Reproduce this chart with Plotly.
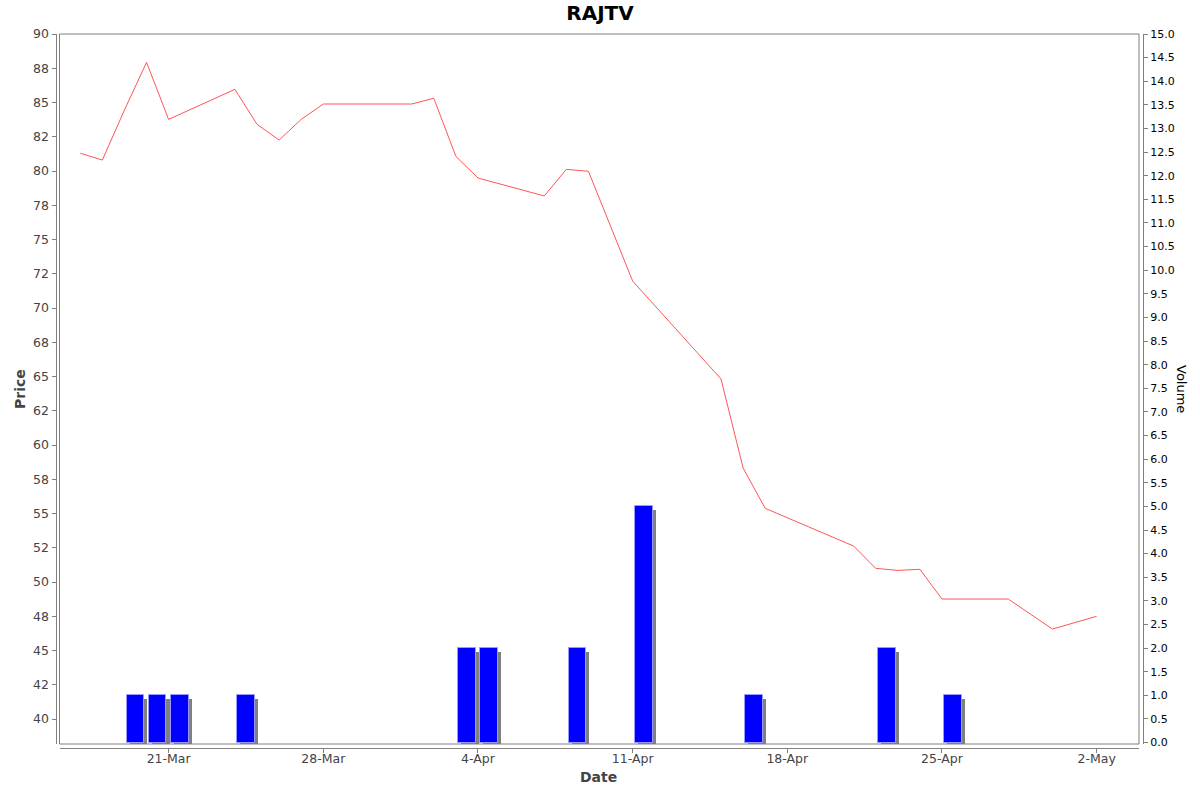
import pandas as pd
import plotly.graph_objects as go

# daily closing price
price_dates = ["2025-03-17", "2025-03-18", "2025-03-19", "2025-03-20", "2025-03-21",
               "2025-03-24", "2025-03-25", "2025-03-26", "2025-03-27", "2025-03-28",
               "2025-03-31", "2025-04-01", "2025-04-02", "2025-04-03", "2025-04-04",
               "2025-04-07", "2025-04-08", "2025-04-09", "2025-04-11", "2025-04-15",
               "2025-04-16", "2025-04-17", "2025-04-21", "2025-04-22", "2025-04-23",
               "2025-04-24", "2025-04-25", "2025-04-28", "2025-04-30", "2025-05-02"]
price_values = [81.3, 80.8, 84.45, 87.93, 83.77,
                85.96, 83.41, 82.26, 83.77, 84.89,
                84.89, 84.89, 85.31, 81.07, 79.49,
                78.18, 80.12, 79.98, 71.97, 64.82,
                58.32, 55.38, 52.63, 51.0, 50.85,
                50.93, 48.76, 48.76, 46.57, 47.5]

# traded volume
vol_dates = ["2025-03-19", "2025-03-20", "2025-03-21", "2025-03-24", "2025-04-03",
             "2025-04-04", "2025-04-08", "2025-04-11", "2025-04-16", "2025-04-22",
             "2025-04-25"]
vol_values = [1, 1, 1, 1, 2, 2, 2, 5, 1, 2, 1]

price_ticks = [40 + 2.5 * i for i in range(21)]
price_labels = ["40", "42", "45", "48", "50", "52", "55", "58", "60", "62", "65",
                "68", "70", "72", "75", "78", "80", "82", "85", "88", "90"]
vol_ticks = [0.5 * i for i in range(31)]
date_ticks = ["2025-03-21", "2025-03-28", "2025-04-04", "2025-04-11", "2025-04-18",
              "2025-04-25", "2025-05-02"]
date_labels = ["21-Mar", "28-Mar", "4-Apr", "11-Apr", "18-Apr", "25-Apr", "2-May"]

DAY = 86400000
FONT = "DejaVu Sans"

vol_x = pd.to_datetime(vol_dates)
price_x = pd.to_datetime(price_dates)

fig = go.Figure()
# bar shadows
fig.add_trace(go.Bar(x=vol_x, y=vol_values, base=-0.085, yaxis="y2",
                     offset=0.24 * DAY, width=0.8 * DAY,
                     marker=dict(color="#808080", line=dict(width=0)),
                     hoverinfo="skip"))
fig.add_trace(go.Bar(x=vol_x, y=vol_values, yaxis="y2", name="Volume",
                     offset=0.1 * DAY, width=0.8 * DAY,
                     marker=dict(color="#0000FF", line=dict(color="#9999ff", width=1))))
fig.add_trace(go.Scatter(x=price_x, y=price_values, mode="lines", name="Price",
                         line=dict(color="#FF5555", width=1)))

# paper area: x 50..1150, y 30..752 (pixels)
def px_x(p):
    return (p - 50) / 1100

def px_y(p):
    return (752 - p) / 722

axis_common = dict(showgrid=False, zeroline=False, showline=True, linecolor="#808080",
                   linewidth=1, ticks="outside", ticklen=4, tickcolor="#808080")

fig.update_layout(
    width=1200, height=792,
    margin=dict(l=50, r=50, t=30, b=40),
    paper_bgcolor="white", plot_bgcolor="white",
    showlegend=False, barmode="overlay", bargap=0,
    title=dict(text="<b>RAJTV</b>", x=0.5, xanchor="center", y=1 - 13 / 792, yanchor="middle",
               font=dict(family=FONT, size=20, color="black")),
    xaxis=dict(axis_common, domain=[px_x(60), px_x(1139)], anchor="free",
               position=px_y(747.5), ticklabelstandoff=-5,
               range=[pd.Timestamp("2025-03-16 02:00"), pd.Timestamp("2025-05-03 22:00")],
               tickvals=pd.to_datetime(date_ticks), ticktext=date_labels,
               tickfont=dict(family=FONT, size=12.5, color="#444444")),
    yaxis=dict(axis_common, domain=[px_y(744), px_y(34)], anchor="free",
               position=px_x(55.5), range=[38.18, 90],
               tickvals=price_ticks, ticktext=price_labels,
               tickfont=dict(family=FONT, size=12.5, color="#444444")),
    yaxis2=dict(axis_common, overlaying="y", side="right", anchor="free",
                position=px_x(1143), range=[-0.03, 15.0],
                tickvals=vol_ticks, tickformat=".1f",
                tickfont=dict(family=FONT, size=11, color="black")),
)

# plot area frame
fig.add_shape(type="rect", xref="paper", yref="paper",
              x0=px_x(59.5), x1=px_x(1139), y0=px_y(744), y1=px_y(34),
              line=dict(color="#808080", width=1), layer="above")

fig.add_annotation(text="<b>Price</b>", xref="paper", yref="paper", x=px_x(20), y=px_y(389),
                   xanchor="center", yanchor="middle", textangle=-90, showarrow=False,
                   font=dict(family=FONT, size=14, color="#444444"))
fig.add_annotation(text="<b>Date</b>", xref="paper", yref="paper", x=px_x(598), y=px_y(777),
                   xanchor="center", yanchor="middle", showarrow=False,
                   font=dict(family=FONT, size=14, color="#444444"))
fig.add_annotation(text="Volume", xref="paper", yref="paper", x=px_x(1182), y=px_y(389),
                   xanchor="center", yanchor="middle", textangle=90, showarrow=False,
                   font=dict(family=FONT, size=13, color="black"))

# drop the page's default body margin so the figure sits at the window corner
fig.write_html("out.html", config={"displayModeBar": False},
               post_script="document.body.style.margin='0';")
